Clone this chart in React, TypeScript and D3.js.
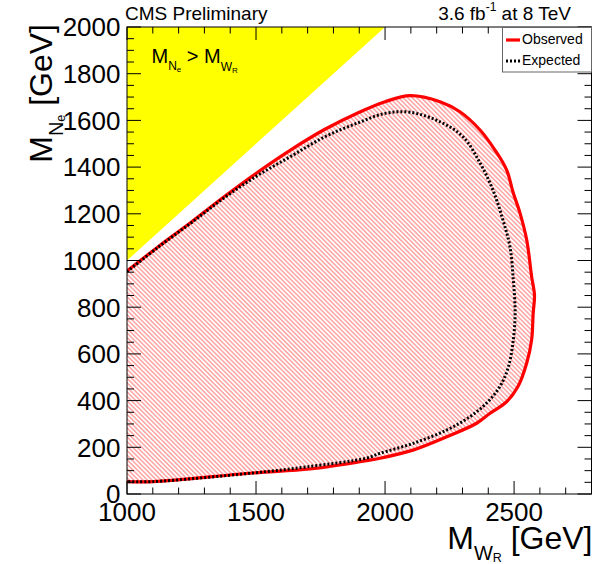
import React from "react";
import * as d3 from "d3";

const WIDTH = 597;
const HEIGHT = 564;

// Axis ranges (GeV)
const mwDomain = [1000, 2800];
const mnDomain = [0, 2000];
const mwTickLabels = [1000, 1500, 2000, 2500];
const mnTickLabels = [0, 200, 400, 600, 800, 1000, 1200, 1400, 1600, 1800, 2000];

// Observed 95% CL exclusion contour (M_WR, M_Ne) in GeV
const observedMW = [1000, 1121, 1251, 1380, 1509, 1638, 1767, 1896, 2000, 2097, 2213, 2290, 2368, 2426, 2471, 2497, 2523, 2549, 2568, 2579, 2574, 2568, 2549, 2515, 2471, 2407, 2355, 2239, 2108, 1980, 1929, 1709, 1488, 1101, 1000];
const observedMN = [955, 1059, 1166, 1276, 1380, 1476, 1562, 1633, 1680, 1706, 1680, 1637, 1559, 1473, 1388, 1289, 1203, 1088, 931, 852, 775, 660, 561, 460, 395, 346, 303, 245, 188, 153, 143, 107, 90, 53, 53];

// Expected exclusion contour
const expectedMW = [1000, 1121, 1251, 1380, 1509, 1638, 1767, 1896, 2000, 2097, 2213, 2302, 2368, 2418, 2457, 2484, 2497, 2504, 2497, 2478, 2445, 2394, 2329, 2239, 2109, 1980, 1929, 1696, 1488, 1101, 1000];
const expectedMN = [952, 1057, 1163, 1271, 1366, 1448, 1530, 1590, 1630, 1635, 1594, 1530, 1418, 1302, 1173, 1059, 917, 775, 660, 545, 460, 390, 331, 274, 217, 174, 154, 116, 90, 53, 53];

// Region where M_Ne > M_WR
const forbiddenMW = [1000, 1000, 2000];
const forbiddenMN = [1000, 2000, 2000];

const legendLabels = ["Observed", "Expected"];

const FONT = "'Liberation Sans', Arial, Helvetica, sans-serif";

export default function App() {
  const x = d3.scaleLinear().domain(mwDomain).range([127, 591.5]);
  const y = d3.scaleLinear().domain(mnDomain).range([494, 27]);
  const [x0, x1] = x.range();
  const [y0, y1] = y.range();

  const line = d3
    .line<[number, number]>()
    .x((d) => x(d[0]))
    .y((d) => y(d[1]))
    .curve(d3.curveCatmullRom.alpha(0.5));

  const observed = observedMW.map((v, i) => [v, observedMN[i]] as [number, number]);
  const expected = expectedMW.map((v, i) => [v, expectedMN[i]] as [number, number]);
  const forbidden = forbiddenMW.map((v, i) => [v, forbiddenMN[i]] as [number, number]);

  const obsPath = line(observed) || "";
  const expPath = line(expected) || "";
  const forbiddenPath = d3.line<[number, number]>().x((d) => x(d[0])).y((d) => y(d[1]))(forbidden) + "Z";

  const xTicks = d3.range(mwDomain[0], mwDomain[1] + 1, 100);
  const yTicks = d3.range(mnDomain[0], mnDomain[1] + 1, 50);

  return (
    <svg
      width={WIDTH}
      height={HEIGHT}
      style={{ position: "absolute", left: 0, top: 0, background: "#fff" }}
      fontFamily={FONT}
    >
      <defs>
        <clipPath id="frame">
          <rect x={x0} y={y1} width={x1 - x0} height={y0 - y1} />
        </clipPath>
        <pattern id="hatch" patternUnits="userSpaceOnUse" width={8} height={3.2} patternTransform="rotate(45)">
          <line x1={0} y1={1.6} x2={8} y2={1.6} stroke="#ff0000" strokeWidth={0.9} strokeOpacity={0.6} />
        </pattern>
      </defs>

      <rect width={WIDTH} height={HEIGHT} fill="#fff" />

      <g clipPath="url(#frame)">
        <path d={forbiddenPath} fill="#ffff00" />
        <path d={obsPath + "Z"} fill="url(#hatch)" />
        <path d={obsPath} fill="none" stroke="#ff0000" strokeWidth={3.2} strokeLinejoin="round" />
        <path d={expPath} fill="none" stroke="#000" strokeWidth={3} strokeDasharray="2 2" />
      </g>

      {/* M_Ne > M_WR annotation */}
      <text x={151.5} y={63.3} fontSize={20} fill="#000">
        M
        <tspan fontSize={12} dy={7}>N</tspan>
        <tspan fontSize={8} dy={2}>e</tspan>
        <tspan fontSize={20} dy={-9}>{" > M"}</tspan>
        <tspan fontSize={12} dy={8}>W</tspan>
        <tspan fontSize={8} dy={2}>R</tspan>
      </text>

      {/* frame */}
      <rect x={x0} y={y1} width={x1 - x0} height={y0 - y1} fill="none" stroke="#000" strokeWidth={1} />

      {/* x ticks, bottom and top */}
      {xTicks.map((t) => {
        const major = t % 500 === 0;
        const len = major ? 13 : 6.5;
        return (
          <g key={"xt" + t} stroke="#000" strokeWidth={1}>
            <line x1={x(t)} x2={x(t)} y1={y0} y2={y0 - len} />
            <line x1={x(t)} x2={x(t)} y1={y1} y2={y1 + len} />
          </g>
        );
      })}
      {/* y ticks, left and right */}
      {yTicks.map((t) => {
        const major = t % 200 === 0;
        const len = major ? 14 : 7;
        return (
          <g key={"yt" + t} stroke="#000" strokeWidth={1}>
            <line x1={x0} x2={x0 + len} y1={y(t)} y2={y(t)} />
            <line x1={x1} x2={x1 - len} y1={y(t)} y2={y(t)} />
          </g>
        );
      })}

      {/* tick labels */}
      {mwTickLabels.map((t) => (
        <text key={"xl" + t} x={x(t)} y={521} fontSize={26} textAnchor="middle" fill="#000">
          {t}
        </text>
      ))}
      {mnTickLabels.map((t) => (
        <text key={"yl" + t} x={120.5} y={y(t) + 9.3} fontSize={26} textAnchor="end" fill="#000">
          {t}
        </text>
      ))}

      {/* axis titles */}
      <text x={592.5} y={549} fontSize={32} textAnchor="end" fill="#000">
        M
        <tspan fontSize={20} dy={10.5}>W</tspan>
        <tspan fontSize={12.5} dy={2.5}>R</tspan>
        <tspan fontSize={32} dy={-13}>{" [GeV]"}</tspan>
      </text>
      <text transform="translate(52,24) rotate(-90)" fontSize={32} textAnchor="end" fill="#000">
        M
        <tspan fontSize={20} dy={10.5}>N</tspan>
        <tspan fontSize={12.5} dy={2.5}>e</tspan>
        <tspan fontSize={32} dy={-13}>{" [GeV]"}</tspan>
      </text>

      {/* header */}
      <text x={125} y={20} fontSize={19} fill="#000">CMS Preliminary</text>
      <text x={571} y={20} fontSize={19} textAnchor="end" fill="#000">
        3.6 fb
        <tspan fontSize={12} dy={-9}>-1</tspan>
        <tspan fontSize={19} dy={9}>{" at 8 TeV"}</tspan>
      </text>

      {/* legend */}
      <rect x={502.5} y={27.5} width={89} height={44.5} fill="#fff" stroke="#666" strokeWidth={1} />
      <line x1={506} x2={520} y1={40} y2={40} stroke="#ff0000" strokeWidth={3.2} />
      <text x={522} y={43.5} fontSize={14} fill="#000">{legendLabels[0]}</text>
      <line x1={506} x2={520} y1={61} y2={61} stroke="#000" strokeWidth={3} strokeDasharray="2 2" />
      <text x={522} y={65} fontSize={14} fill="#000">{legendLabels[1]}</text>
    </svg>
  );
}
